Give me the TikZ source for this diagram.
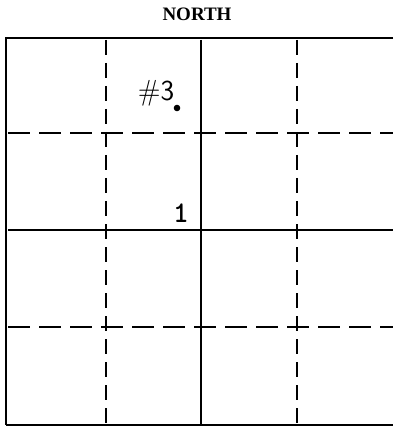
\documentclass[tikz,border=0pt]{standalone}
\usepackage{fontspec}
\newfontfamily\northfont{Liberation Serif}
\usepackage{tikz}
\usetikzlibrary{positioning}
\tikzset{
  border/.style={line width=2.6pt},
  thinborder/.style={line width=1.2pt},
  hgrid/.style={line width=1.8pt, dash pattern=on 22pt off 9pt},
  vgrid/.style={line width=1.8pt, dash pattern=on 15pt off 8pt},
  axis/.style={line width=1.5pt},
  lbl/.style={inner sep=0pt, font=\fontsize{29}{31}\selectfont\sffamily},
  title/.style={inner sep=0pt, font=\fontsize{19}{21}\selectfont\northfont\bfseries}
}

\begin{document}
\begin{tikzpicture}[x=1pt, y=-1pt]
  \useasboundingbox (0,0) rectangle (393,427);
  % plot outline
  \coordinate (tl) at (6,38);
  \coordinate (tr) at (393,38);
  \coordinate (bl) at (6,425);
  \coordinate (br) at (393,425);
  \draw[border] (tr) -- (tl) -- (bl);
  \draw[thinborder] (bl) -- (br);
  % grid
  \foreach \x in {106,297}
    \draw[vgrid] (\x,40) -- (\x,425);
  \foreach \y in {133,327}
    \draw[hgrid] (8,\y) -- (393,\y);
  \draw[axis] (201,40) -- (201,425);
  \draw[axis] (8,230) -- (393,230);
  % labels
  \node[title] (heading) at (197,14) {NORTH};
  \node[lbl] (lbl3) at (156,93) {\#3};
  \fill (177,108) circle (3.3pt) coordinate (dot);
  \node[lbl, font=\fontsize{30}{32}\selectfont\ttfamily\bfseries] (lbl1) at (181,213) {1};
\end{tikzpicture}
\end{document}
